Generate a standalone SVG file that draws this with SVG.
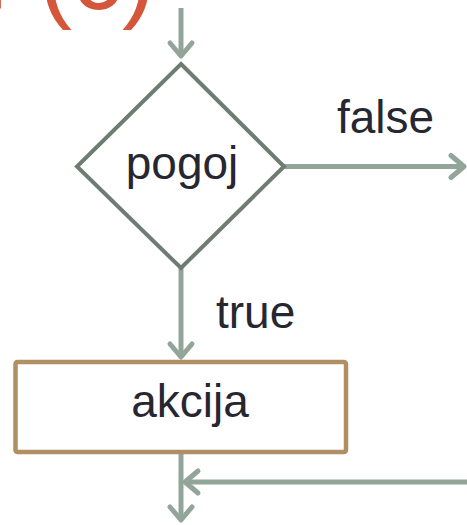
<svg xmlns="http://www.w3.org/2000/svg" width="467" height="525" viewBox="0 0 467 525">
  <style>
    .lbl { font-family: "Liberation Sans", Arial, sans-serif; font-size: 46px; fill: #272731; }
    .title { font-family: "Liberation Sans", Arial, sans-serif; font-size: 100px; fill: #d4573b; }
    .flow { fill: none; stroke: #93a598; stroke-width: 5; }
    .cond { fill: #ffffff; stroke: #6e7c71; stroke-width: 4; stroke-linejoin: miter; }
    .act { fill: #ffffff; stroke: #b08f64; stroke-width: 4.5; }
  </style>
  <defs>
    <marker id="chev" markerUnits="userSpaceOnUse" markerWidth="40" markerHeight="40" viewBox="-20 -20 40 40" refX="0" refY="0" orient="auto" overflow="visible">
      <polyline points="-13,-11 0,0 -13,11" fill="none" stroke="#93a598" stroke-width="5" stroke-linecap="round" stroke-linejoin="round"/>
    </marker>
  </defs>

  <rect width="467" height="525" fill="#ffffff"/>

  <!-- heading, clipped by the top edge -->
  <text class="title" x="-39" y="9">if (c)</text>

  <!-- connectors -->
  <g id="connectors">
    <line class="flow" x1="181" y1="8" x2="181" y2="56" marker-end="url(#chev)"/>
    <line class="flow" x1="284" y1="166.5" x2="464" y2="166.5" marker-end="url(#chev)"/>
    <line class="flow" x1="181" y1="268" x2="181" y2="357" marker-end="url(#chev)"/>
    <line class="flow" x1="181" y1="452" x2="181" y2="520" marker-end="url(#chev)"/>
    <line class="flow" x1="470" y1="482" x2="185" y2="482" marker-end="url(#chev)"/>
    <text class="lbl" x="337" y="133">false</text>
    <text class="lbl" x="216" y="328">true</text>
  </g>

  <!-- decision -->
  <g id="pogoj">
    <polygon class="cond" points="181,64 284,166.5 181,268 77,166.5"/>
    <text class="lbl" x="182" y="179" text-anchor="middle">pogoj</text>
  </g>

  <!-- action -->
  <g id="akcija">
    <rect class="act" x="15.5" y="362" width="330.5" height="90" rx="2"/>
    <text class="lbl" x="190" y="417" text-anchor="middle">akcija</text>
  </g>
</svg>
